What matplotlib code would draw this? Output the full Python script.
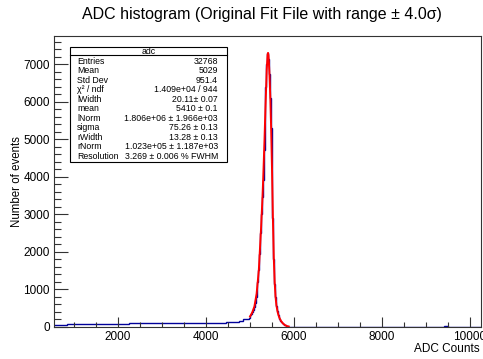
import numpy as np
import matplotlib
matplotlib.use("Agg")
import matplotlib.pyplot as plt
from matplotlib.ticker import MultipleLocator

plt.rcParams['font.family'] = ['Liberation Sans', 'DejaVu Sans']

# ---------------- data ----------------
# flat region, 100-ADC bins (edges 550..4950)
flat_counts = [40, 50, 58, 62, 64, 66, 68, 70, 72, 74, 76, 78, 80, 81, 83, 84,
               85, 86, 88, 88, 90, 91, 92, 94, 96, 95, 94, 93, 95, 96, 97, 96,
               92, 88, 86, 88, 92, 98, 104, 112, 122, 138, 160, 195]
# peak region, 20-ADC bins (edges 4950..5910)
peak_counts = [215, 240, 265, 300, 340, 390, 450, 530,
               640, 780, 950, 1180, 1500, 1950, 2500, 3000,
               3450, 3900, 4700, 5600, 6400, 7000, 7300, 7150,
               6750, 6100, 5300, 4300, 2900, 1800, 1150, 780,
               560, 420, 320, 250, 195, 155, 125, 95,
               70, 50, 35, 22, 13, 7, 3, 1]
# high tail, 100-ADC bins (edges 5910..10310)
tail_counts = [0, 0, 0, 0, 0, 0, 0, 0, 0, 0, 0, 0, 0, 0, 0, 0, 0, 0, 0, 0,
               0, 0, 0, 0, 0, 0, 0, 0, 0, 0, 0, 0, 0, 0, 0, 8, 0, 0, 0, 0,
               0, 0, 0, 0]

# fit curve
fit_x = [5000, 5050, 5100, 5150, 5200, 5250, 5280, 5300, 5330, 5350, 5380,
         5400, 5410, 5420, 5440, 5460, 5480, 5500, 5520, 5540, 5560, 5580,
         5600, 5630, 5660, 5700, 5750, 5800, 5850, 5880]
fit_y = [270, 380, 540, 880, 1500, 2600, 3350, 3950, 5000, 5800, 6850,
         7250, 7300, 7230, 6800, 6150, 5300, 4200, 2900, 1850, 1200, 800,
         570, 380, 260, 160, 85, 38, 12, 5]

stats_labels = ["Entries", "Mean", "Std Dev", "χ² / ndf", "lWidth", "mean",
                "lNorm", "sigma", "rWidth", "rNorm", "Resolution"]
stats_values = ["32768", "5029", "951.4", "1.409e+04 / 944", "20.11± 0.07",
                "5410 ± 0.1", "1.806e+06 ± 1.966e+03", "75.26 ± 0.13",
                "13.28 ± 0.13", "1.023e+05 ± 1.187e+03", "3.269 ± 0.006 % FWHM"]

# ---------------- figure ----------------
W, H = 483, 359
fig = plt.figure(figsize=(W / 100, H / 100), dpi=100)
ax = fig.add_axes([54 / W, 1 - 326.7 / H, (481 - 54) / W, (326.7 - 36) / H])

edges = np.concatenate([np.arange(550, 4950, 100),
                        np.arange(4950, 5910, 20),
                        np.arange(5910, 10311, 100)])
counts = np.array(flat_counts + peak_counts + tail_counts, dtype=float)
ax.stairs(counts, edges, color='#000099', linewidth=1.0, baseline=None)
ax.plot(fit_x, fit_y, color='#ff0000', linewidth=1.4)

ax.set_xlim(545, 10250)
ax.set_ylim(0, 7750)

ax.xaxis.set_major_locator(MultipleLocator(2000))
ax.xaxis.set_minor_locator(MultipleLocator(500))
ax.yaxis.set_major_locator(MultipleLocator(1000))
ax.yaxis.set_minor_locator(MultipleLocator(200))
ax.tick_params(axis='x', which='major', direction='in', length=7, width=0.8,
               labelsize=8.5, pad=3, color='#333333')
ax.tick_params(axis='x', which='minor', direction='in', length=3.5, width=0.8,
               color='#333333')
ax.tick_params(axis='y', which='major', direction='in', length=10, width=0.8,
               labelsize=8.5, pad=3, color='#333333')
ax.tick_params(axis='y', which='minor', direction='in', length=5, width=0.8,
               color='#333333')
for s in ax.spines.values():
    s.set_linewidth(0.8)
    s.set_color('#333333')

fig.text(480 / W, 1 - 348.5 / H, "ADC Counts", ha='right', va='center', fontsize=8.5)
fig.text(17 / W, 1 - 182 / H, "Number of events", ha='center', va='center',
         rotation=90, fontsize=8.3)
fig.text(262 / W, 1 - 15 / H, "ADC histogram (Original Fit File with range ± 4.0σ)",
         ha='center', va='center', fontsize=11.5)

# stats box
bx0, by0, bx1, by1 = 70, 47, 226.7, 161.7
box = plt.Rectangle((bx0 / W, 1 - by1 / H), (bx1 - bx0) / W, (by1 - by0) / H,
                    transform=fig.transFigure, facecolor='white',
                    edgecolor='black', linewidth=0.8, zorder=5)
fig.add_artist(box)
fig.add_artist(plt.Line2D([bx0 / W, bx1 / W], [1 - 55 / H, 1 - 55 / H],
                          transform=fig.transFigure, color='black',
                          linewidth=0.8, zorder=6))
fig.text((bx0 + bx1) / 2 / W, 1 - 51 / H, "adc", ha='center', va='center',
         fontsize=6.3, zorder=7)
row_y0, row_dy = 61, 9.55
for i, (lab, val) in enumerate(zip(stats_labels, stats_values)):
    y = 1 - (row_y0 + i * row_dy) / H
    fig.text(77 / W, y, lab, ha='left', va='center', fontsize=6.3, zorder=7)
    fig.text(218 / W, y, val, ha='right', va='center', fontsize=6.3, zorder=7)

fig.savefig("out.png", dpi=100)
